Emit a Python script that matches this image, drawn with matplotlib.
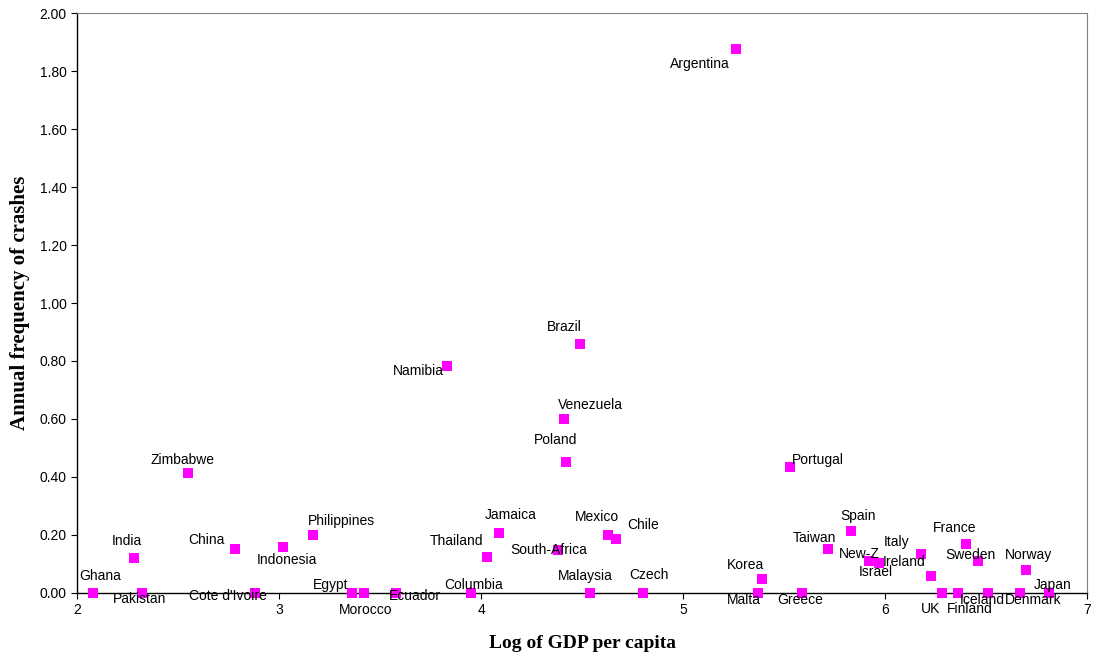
import numpy as np
import matplotlib.pyplot as plt
from matplotlib.ticker import FormatStrFormatter

# data: log GDP per capita vs annual crash frequency
countries = ['Ghana', 'India', 'Pakistan', 'Zimbabwe', 'China', "Cote d'Ivoire",
             'Indonesia', 'Philippines', 'Egypt', 'Morocco', 'Ecuador', 'Namibia',
             'Columbia', 'Thailand', 'Jamaica', 'South-Africa', 'Venezuela', 'Poland',
             'Brazil', 'Malaysia', 'Mexico', 'Chile', 'Czech', 'Argentina', 'Malta',
             'Korea', 'Portugal', 'Greece', 'Taiwan', 'Spain', 'New-Z', 'Israel',
             'Italy', 'Ireland', 'UK', 'Finland', 'France', 'Sweden', 'Iceland',
             'Denmark', 'Norway', 'Japan']
log_gdp = [2.08, 2.28, 2.32, 2.55, 2.78, 2.88,
           3.02, 3.17, 3.36, 3.42, 3.58, 3.83,
           3.95, 4.03, 4.09, 4.38, 4.41, 4.42,
           4.49, 4.54, 4.63, 4.67, 4.80, 5.26, 5.37,
           5.39, 5.53, 5.59, 5.72, 5.83, 5.92, 5.97,
           6.18, 6.23, 6.28, 6.36, 6.40, 6.46, 6.51,
           6.67, 6.70, 6.81]
crash_freq = [0.0, 0.121, 0.0, 0.414, 0.152, 0.0,
              0.159, 0.200, 0.0, 0.0, 0.0, 0.783,
              0.0, 0.124, 0.207, 0.148, 0.600, 0.452,
              0.859, 0.0, 0.200, 0.186, 0.0, 1.876, 0.0,
              0.048, 0.434, 0.0, 0.152, 0.214, 0.110, 0.103,
              0.134, 0.059, 0.0, 0.0, 0.169, 0.110, 0.0,
              0.0, 0.079, 0.0]

# label placement (pixels, x right / y up) as in the original chart
label_offsets = {
    'Ghana': (7, 17), 'India': (-7, 17), 'Pakistan': (-2, -6), 'Zimbabwe': (-6, 13),
    'China': (-28, 9), "Cote d'Ivoire": (-27, -3), 'Indonesia': (4, -13),
    'Philippines': (28, 14), 'Egypt': (-21, 8), 'Morocco': (2, -17), 'Ecuador': (19, -3),
    'Namibia': (-28, -5), 'Columbia': (3, 8), 'Thailand': (-31, 16), 'Jamaica': (12, 18),
    'South-Africa': (-9, 0), 'Venezuela': (27, 14), 'Poland': (-10, 22), 'Brazil': (-16, 17),
    'Malaysia': (-5, 17), 'Mexico': (-11, 18), 'Chile': (27, 14), 'Czech': (6, 18),
    'Argentina': (-36, -15), 'Malta': (-14, -7), 'Korea': (-16, 14), 'Portugal': (28, 7),
    'Greece': (-2, -7), 'Taiwan': (-14, 11), 'Spain': (7, 15), 'New-Z': (-10, 7),
    'Israel': (-3, -9), 'Italy': (-25, 12), 'Ireland': (-27, 14), 'UK': (-11, -16),
    'Finland': (12, -16), 'France': (-11, 16), 'Sweden': (-7, 6), 'Iceland': (-6, -7),
    'Denmark': (13, -7), 'Norway': (2, 15), 'Japan': (4, 8),
}

plt.rcParams['font.family'] = ['Liberation Sans', 'DejaVu Sans']

fig = plt.figure(figsize=(10.94, 6.61), dpi=100)
ax = fig.add_axes([0.0704, 0.1029, 0.9232, 0.8774])

ax.scatter(log_gdp, crash_freq, marker='s', s=52, color='#FF00FF', zorder=3, clip_on=False,
           linewidths=0)

for name, x, y in zip(countries, log_gdp, crash_freq):
    dx, dy = label_offsets[name]
    ax.annotate(name, (x, y), xytext=(dx, dy), textcoords='offset pixels',
                ha='center', va='center', fontsize=10, color='black', zorder=4,
                annotation_clip=False)

ax.set_xlim(2, 7)
ax.set_ylim(0, 2)
ax.set_xticks([2, 3, 4, 5, 6, 7])
ax.set_yticks(np.arange(0, 2.01, 0.2))
ax.yaxis.set_major_formatter(FormatStrFormatter('%.2f'))
ax.tick_params(direction='out', length=4, width=0.8, labelsize=10, colors='black')

for side in ['top', 'right']:
    ax.spines[side].set_color('#808080')
    ax.spines[side].set_linewidth(0.8)
for side in ['left', 'bottom']:
    ax.spines[side].set_color('black')
    ax.spines[side].set_linewidth(1.0)

ax.set_xlabel('Log of GDP per capita', fontsize=14, fontweight='bold',
              family='Liberation Serif', labelpad=13)
ax.set_ylabel('Annual frequency of crashes', fontsize=15, fontweight='bold',
              family='Liberation Serif', labelpad=7)

fig.savefig('out.png', dpi=100)
